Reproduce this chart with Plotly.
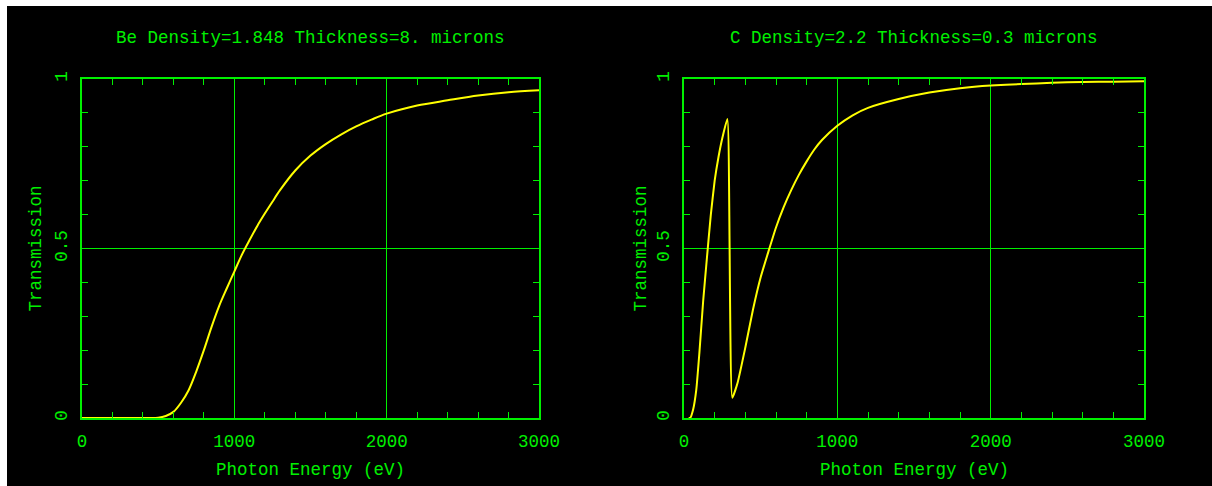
import plotly.graph_objects as go

# Be filter, 8 microns
be_energy = [0, 250, 500, 550, 600, 650, 700, 750, 800, 850, 900, 950, 1000, 1050,
             1100, 1150, 1200, 1250, 1300, 1400, 1500, 1600, 1700, 1800, 1900, 2000,
             2200, 2400, 2600, 2800, 3000]
be_trans = [0, 0, 0.001, 0.006, 0.018, 0.045, 0.082, 0.137, 0.2, 0.268, 0.33, 0.382,
            0.432, 0.482, 0.525, 0.566, 0.603, 0.638, 0.672, 0.73, 0.774, 0.808,
            0.836, 0.86, 0.88, 0.898, 0.922, 0.937, 0.951, 0.961, 0.967]

# C filter, 0.3 microns
c_energy = [30, 40, 60, 80, 100, 125, 150, 175, 200, 225, 250, 283, 315, 350, 400,
            450, 500, 550, 600, 650, 700, 750, 800, 850, 900, 1000, 1100, 1200,
            1400, 1600, 1800, 2000, 2200, 2400, 2600, 2800, 3000]
c_trans = [0, 0, 0.026, 0.083, 0.19, 0.345, 0.475, 0.6, 0.7, 0.77, 0.826, 0.882,
           0.06, 0.105, 0.208, 0.32, 0.415, 0.49, 0.562, 0.622, 0.673, 0.718, 0.757,
           0.792, 0.82, 0.862, 0.893, 0.915, 0.941, 0.96, 0.973, 0.981, 0.985,
           0.989, 0.991, 0.992, 0.993]

titles = ["Be Density=1.848 Thickness=8. microns",
          "C Density=2.2 Thickness=0.3 microns"]
x_ticks = [0, 1000, 2000, 3000]
x_labels = ["0", "1000", "2000", "3000"]
y_ticks = [0, 0.5, 1]
y_labels = ["0", "0.5", "1"]
x_title = "Photon Energy (eV)"
y_title = "Transmission"

W, H = 1212, 486
GREEN = "#00f000"
YELLOW = "#ffff00"
FONT = "Liberation Mono"
FS = 17.5

def px(x):
    return x / W

def py(y):
    return (H - y) / H

panels = [(82, 539), (684, 1144)]
top, bottom = 79, 418

fig = go.Figure()
series = [(be_energy, be_trans, 0.9), (c_energy, c_trans, 0.45)]
for i, (ex, ty, sm) in enumerate(series):
    sfx = "" if i == 0 else "2"
    fig.add_trace(go.Scatter(x=ex, y=ty, mode="lines", xaxis="x" + sfx, yaxis="y" + sfx,
                             line=dict(color=YELLOW, width=2, shape="spline",
                                       smoothing=sm),
                             showlegend=False, hoverinfo="skip"))

def xaxis(dom, anchor):
    return dict(domain=dom, anchor=anchor, range=[0, 3000], tickvals=x_ticks,
                ticktext=x_labels, showgrid=True, gridcolor=GREEN, gridwidth=1,
                zeroline=False, showline=True, linecolor=GREEN, linewidth=2,
                mirror="ticks", ticks="inside", ticklen=0, tickcolor=GREEN,
                tickfont=dict(family=FONT, size=FS, color=GREEN),
                ticklabelstandoff=6,
                minor=dict(dtick=200, tick0=0, ticks="inside", ticklen=6,
                           tickcolor=GREEN, tickwidth=1, showgrid=False),
                automargin=False, fixedrange=True)

def yaxis(dom, anchor):
    return dict(domain=dom, anchor=anchor, range=[0, 1], tickvals=y_ticks,
                ticktext=y_labels, showgrid=True, gridcolor=GREEN, gridwidth=1,
                zeroline=False, showline=True, linecolor=GREEN, linewidth=2,
                mirror="ticks", ticks="inside", ticklen=0, tickcolor=GREEN,
                tickangle=-90,
                tickfont=dict(family=FONT, size=FS, color=GREEN),
                ticklabelstandoff=6,
                minor=dict(dtick=0.1, tick0=0, ticks="inside", ticklen=6,
                           tickcolor=GREEN, tickwidth=1, showgrid=False),
                automargin=False, fixedrange=True)

ydom = [py(bottom), py(top)]
xd1 = [px(panels[0][0]), px(panels[0][1])]
xd2 = [px(panels[1][0]), px(panels[1][1])]

annotations = []
for (l, r), t, ylab_x in zip(panels, titles, [35, 640]):
    cx = (l + r) / 2
    annotations.append(dict(text=t, x=px(cx), y=py(38), xref="paper", yref="paper",
                            showarrow=False, xanchor="center", yanchor="middle",
                            font=dict(family=FONT, size=FS, color=GREEN)))
    annotations.append(dict(text=x_title, x=px(cx), y=py(470), xref="paper", yref="paper",
                            showarrow=False, xanchor="center", yanchor="middle",
                            font=dict(family=FONT, size=FS, color=GREEN)))
    annotations.append(dict(text=y_title, x=px(ylab_x), y=py((top + bottom) / 2),
                            xref="paper", yref="paper", textangle=-90,
                            showarrow=False, xanchor="center", yanchor="middle",
                            font=dict(family=FONT, size=FS, color=GREEN)))

fig.update_layout(
    width=W, height=H,
    margin=dict(l=0, r=0, t=0, b=0),
    paper_bgcolor="white",
    plot_bgcolor="black",
    xaxis=xaxis(xd1, "y"), yaxis=yaxis(ydom, "x"),
    xaxis2=xaxis(xd2, "y2"), yaxis2=yaxis(ydom, "x2"),
    annotations=annotations,
    shapes=[dict(type="rect", xref="paper", yref="paper", x0=px(7), x1=1.0,
                 y0=0, y1=py(6), fillcolor="black", line=dict(width=0),
                 layer="below")],
)

fig.write_html("out.html")
